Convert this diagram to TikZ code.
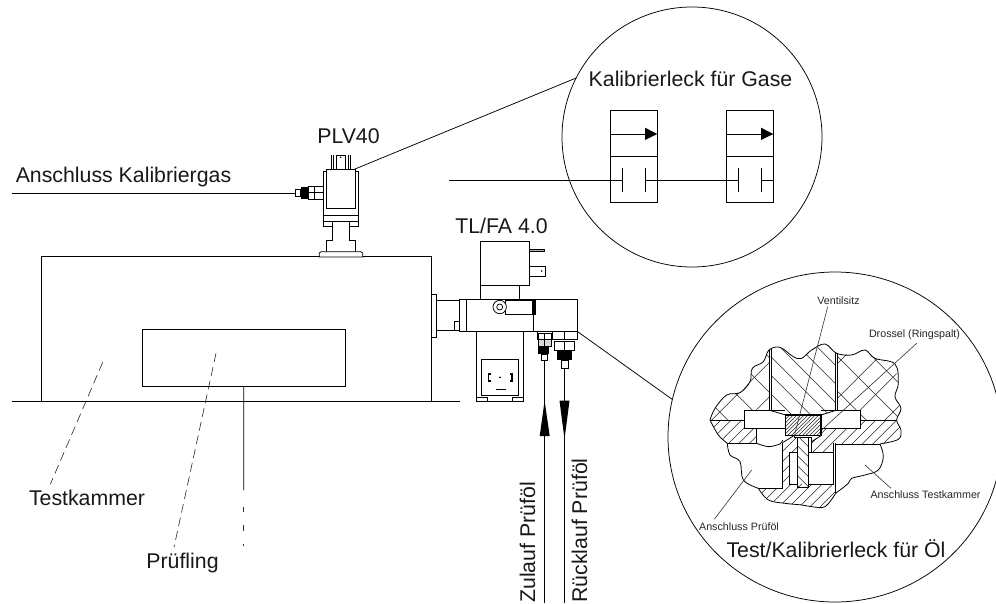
\documentclass[tikz,border=0pt]{standalone}
\usepackage{fontspec}
\setmainfont{Liberation Sans}
\usetikzlibrary{shapes.geometric}
\tikzset{
  lab/.style={font=\fontsize{21.3}{24}\selectfont,inner sep=0pt,text=black!90},
  smalllab/.style={font=\fontsize{10.7}{12}\selectfont,inner sep=0pt,text=black!85},
  ln/.style={draw=black,line width=0.75pt},
  thin ln/.style={draw=black!80,line width=0.6pt},
  lens/.style={draw=black,line width=0.75pt,inner sep=0pt,outer sep=0pt},
  hatchline/.style={draw=black!85,line width=0.55pt},
  outl/.style={draw=black,line width=0.8pt},
  dashleader/.style={draw=black!85,line width=0.6pt,dash pattern=on 9pt off 5pt},
}
\newcommand\hatchreg[3]{%
  \begin{scope}
    \clip #1;
    \pgfmathtruncatemacro\nxt{-1500+#2}
    \foreach \c in {-1500,\nxt,...,2000}{\draw[hatchline] (\c,-200) -- ({\c+(#3)*1000},800);}
  \end{scope}}
\begin{document}
\begin{tikzpicture}[x=1pt,y=-1pt]
\useasboundingbox (0,0) rectangle (996,603);
\clip (0,0) rectangle (996,603);
\fill[white] (0,0) rectangle (996,603);

% ---------- test chamber
\draw[ln] (41.3,401) -- (41.3,256.7) -- (431.3,256.7) -- (431.3,401);
\draw[ln] (12,401) -- (460,401);
\node[draw=black,line width=0.75pt,minimum width=203pt,minimum height=57.7pt,inner sep=0pt,outer sep=0pt] (dut) at (243.8,357.9) {};
\coordinate (dutend) at (243.7,490);
\draw[ln] (dut.south) -- (dutend);
\draw[thin ln] (243.7,507) -- (243.7,512) (243.7,525) -- (243.7,531) (243.7,544) -- (243.7,546);
\node[lab,anchor=center] (tk) at (87,498) {Testkammer};
\node[lab,anchor=center] (pf) at (182.5,563) {Prüfling};
\coordinate (tkin) at (102.7,362.3);
\coordinate (pfin) at (216,353.3);
\draw[dashleader] (tkin) -- (50.3,484.3);
\draw[dashleader] (pfin) -- (174,547.3);

% ---------- PLV40 valve
\node[lab] (plv) at (348.5,136) {PLV40};
\draw[ln] (331.7,155) -- (331.7,169) (333.3,155) -- (333.3,169) (348.3,155) -- (348.3,169) (350,155) -- (350,169);
\draw[ln] (336,169) -- (336,155) -- (345,155) -- (345,169);
\fill (340.7,157.3) circle (0.8pt);
\draw[ln] (323.3,171.7) -- (323.3,221.7) -- (358.7,221.7) -- (358.7,171.7) -- cycle;
\draw[ln,fill=white] (326,169) rectangle (355.7,208.3);
\draw[ln] (323.3,215.7) -- (358.7,215.7);
\draw[ln] (323.3,221.7) rectangle (332.3,226.7) (349.3,221.7) rectangle (358.7,226.7);
\draw[ln] (332.3,226.7) -- (332.3,240) -- (326,240) -- (326,251.7) (349.3,226.7) -- (349.3,240) -- (355.7,240) -- (355.7,251.7);
\draw[ln,fill=white] (319.3,253) -- (321,251.7) -- (360.7,251.7) -- (362.7,253) -- (362.7,257) -- (319.3,257) -- cycle;
\coordinate (plvcorner) at (355,169);
\draw[ln] (295.3,189.3) rectangle (300.7,196.7);
\fill (300.7,187.3) rectangle (308.3,199.3);
\draw[ln] (308.3,186) rectangle (323.3,199.3);
\draw[ln] (314.5,186) -- (314.5,199.3) (308.3,192.5) -- (323.3,192.5);
\coordinate (gasin) at (12,193.7);
\coordinate (gasend) at (295.3,193.7);
\draw[ln] (gasin) -- (gasend);
\node[lab] (akg) at (123.5,177) {Anschluss Kalibriergas};

% ---------- TL/FA 4.0 valve
\node[lab] (tl) at (501.5,226) {TL/FA 4.0};
\draw[ln] (431.7,294.3) rectangle (436.7,337.3);
\draw[ln] (436.7,300) rectangle (459.3,330.7);
\draw[ln] (454.3,321.7) rectangle (459.3,330.7);
\draw[ln] (459.3,299.3) rectangle (577.7,331.7);
\draw[ln] (466.7,299.3) -- (466.7,331.7) (533.3,299.3) -- (533.3,331.7);
\draw[ln] (480,241.7) rectangle (529.3,285);
\draw[ln] (480,285) -- (480,299.3) (519.3,285) -- (519.3,299.3);
\draw[ln,fill=black!30] (529.3,249.3) rectangle (544.3,251.7);
\draw[ln] (529.3,266) -- (545,266) -- (545,276) -- (529.3,276);
\fill (541.7,271) circle (0.8pt);
\draw[ln,fill=white] (505,300.7) rectangle (535,314.7);
\fill (531.7,300.7) rectangle (535,314.7);
\draw[ln,fill=white] (499.7,307) circle (6.7pt);
\draw[ln] (499.7,307) circle (3pt);
\draw[ln] (476.7,331.7) -- (476.7,401.7) -- (523.3,401.7) -- (523.3,331.7);
\draw[ln] (481.7,359) rectangle (518.3,395.7);
\draw[ln] (476.7,397.3) rectangle (487.7,401.7) (512.3,397.3) rectangle (523.3,401.7);
\draw[line width=1.3pt] (490.5,374) -- (488.7,374) -- (488.7,381) -- (490.5,381);
\draw[line width=1.3pt] (510,374) -- (512,374) -- (512,381) -- (510,381);
\fill (500,377.3) circle (1pt);
\draw[line width=0.9pt] (495.7,389) -- (505.7,389);
% fittings
\draw[ln] (537.7,331.7) -- (537.7,339) -- (577.7,339) -- (577.7,331.7);
\draw[ln] (552,331.7) -- (552,339) (564.5,331.7) -- (564.5,339);
\draw[ln] (538.3,333) rectangle (551,339);
\draw[ln,fill=black!15] (538.3,339) rectangle (551,346.7);
\draw[ln] (544.5,333) -- (544.5,346.7);
\fill (538.3,346.7) rectangle (549,354.3);
\draw[ln] (541.7,354.3) rectangle (547.7,360.7);
\draw[ln] (554.3,341) rectangle (574.3,350.7);
\draw[ln] (564.3,341) -- (564.3,350.7);
\fill (557.3,350.7) rectangle (571.7,360);
\draw[ln] (561,360) rectangle (568.3,368.3);
% oil lines and arrows
\coordinate (oilin) at (544.6,360.7);
\coordinate (oilinend) at (544.6,603);
\coordinate (oilout) at (564.5,368.3);
\coordinate (oiloutend) at (564.5,603);
\draw[ln] (oilin) -- (oilinend);
\draw[ln] (oilout) -- (oiloutend);
\fill (544.6,400.7) -- (549.7,436) -- (539.7,436) -- cycle;
\fill (559.5,400.7) -- (569.5,400.7) -- (564.5,439.3) -- cycle;
\node[lab,rotate=90,anchor=west] (zu) at (527.5,603) {Zulauf Prüföl};
\node[lab,rotate=90,anchor=west] (rue) at (579.5,603) {Rücklauf Prüföl};

% ---------- gas lens
\node[lens,circle,minimum size=260pt] (gaslens) at (692,137) {};
\draw[ln] (plvcorner) -- (gaslens.153);
\node[lab] (klg) at (690.5,79) {Kalibrierleck für Gase};
\draw[ln] (610.7,110.3) rectangle (657.3,202.7);
\draw[ln] (726.7,110.3) rectangle (773.3,202.7);
\draw[line width=1.4pt] (610.7,156.7) -- (657.3,156.7) (726.7,156.7) -- (773.3,156.7);
\draw[ln] (610.7,134) -- (650,134) (726.7,134) -- (766,134);
\fill (645,127.7) -- (657.3,134) -- (645,140) -- cycle;
\fill (761,127.7) -- (773.3,134) -- (761,140) -- cycle;
\coordinate (s1) at (449.3,180);
\coordinate (s2) at (622.7,180);
\coordinate (s3) at (645.7,180);
\coordinate (s4) at (738.3,180);
\coordinate (s5) at (761.7,180);
\coordinate (s6) at (773.3,180);
\draw[ln] (s1) -- (s2) (s3) -- (s4) (s5) -- (s6);
\draw[ln] (622.7,168.3) -- (622.7,191.7) (645.7,168.3) -- (645.7,191.7) (738.3,168.3) -- (738.3,191.7) (761.7,168.3) -- (761.7,191.7);

% ---------- oil lens
\node[lens,ellipse,minimum width=334pt,minimum height=330pt] (oillens) at (835,437) {};
\coordinate (tlcorner) at (577.7,331.7);
\draw[ln] (tlcorner) -- (oillens.167);
\node[lab] (tko) at (836,549) {Test/Kalibrierleck für Öl};
\node[smalllab] (vs) at (838.5,301) {Ventilsitz};
\node[smalllab] (dr) at (914.5,335) {Drossel (Ringspalt)};
\node[smalllab] (at) at (925.5,495) {Anschluss Testkammer};
\node[smalllab] (ap) at (739,527) {Anschluss Prüföl};

\begin{scope}[shift={(665,340)},x=0.3333pt,y=-0.3333pt]
  % cross hatched housing
  \hatchreg{(135,240)--(150,205)--(185,165)--(225,158)--(255,125)--(262,85)--(295,65)--(312,30)--(312,212)--(238,212)--(238,240)--cycle}{104}{1}
  \hatchreg{(135,240)--(150,205)--(185,165)--(225,158)--(255,125)--(262,85)--(295,65)--(312,30)--(312,212)--(238,212)--(238,240)--cycle}{104}{-1}
  \hatchreg{(518,40)--(560,45)--(600,30)--(630,55)--(690,72)--(700,130)--(690,170)--(708,205)--(695,240)--(587,240)--(587,212)--(518,212)--cycle}{104}{1}
  \hatchreg{(518,40)--(560,45)--(600,30)--(630,55)--(690,72)--(700,130)--(690,170)--(708,205)--(695,240)--(587,240)--(587,212)--(518,212)--cycle}{104}{-1}
  % plunger
  \hatchreg{(318,28)--(345,22)--(385,50)--(410,55)--(440,30)--(480,12)--(510,38)--(510,212)--(467,225)--(360,225)--(318,212)--cycle}{56}{1}
  % lower housing
  \hatchreg{(135,240)--(238,240)--(238,265)--(275,265)--(275,310)--(187,310)--(160,285)--cycle}{31}{-1}
  \hatchreg{(587,240)--(695,240)--(708,270)--(700,298)--(645,312)--(510,312)--(505,337)--(440,337)--(440,305)--(468,287)--(468,265)--(587,265)--cycle}{31}{-1}
  \hatchreg{(353,308)--(385,288)--(397,293)--(397,337)--(373,337)--(373,432)--(353,445)--cycle}{31}{-1}
  \hatchreg{(280,445)--(353,445)--(373,432)--(505,432)--(510,460)--(480,500)--(440,500)--(410,495)--(360,490)--(310,480)--cycle}{31}{-1}
  % stem and seat
  \hatchreg{(397,293)--(430,293)--(430,442)--(397,442)--cycle}{30}{1}
  \hatchreg{(362,225)--(468,225)--(468,287)--(362,287)--cycle}{11}{-1}
  % outlines
  \draw[outl] plot[smooth,tension=0.6] coordinates {(135,240)(150,205)(185,165)(225,158)(255,125)(262,85)(295,65)(312,30)(345,22)(385,50)(410,55)(440,30)(480,12)(515,40)(560,45)(600,30)(630,55)(690,72)(700,130)(690,170)(708,205)(695,240)(708,270)(700,298)(645,312)};
  \draw[outl] plot[smooth,tension=0.6] coordinates {(135,240)(160,285)(187,310)};
  \draw[outl] plot[smooth,tension=0.6] coordinates {(187,310)(195,345)(225,365)(235,420)(280,445)};
  \draw[outl] plot[smooth,tension=0.6] coordinates {(280,445)(310,480)(360,490)(410,495)(440,500)(480,500)(512,460)};
  \draw[outl] plot[smooth,tension=0.6] coordinates {(512,460)(550,430)(560,415)(600,405)(640,390)(655,350)(645,312)};
  % horizontal joints
  \draw[outl] (135,240) -- (238,240) (587,240) -- (695,240);
  % cavity
  \draw[outl] (360,212) -- (238,212) -- (238,265) -- (360,265);
  \draw[outl] (467,212) -- (587,212) -- (587,265) -- (467,265);
  % plunger walls
  \draw[outl] (312,30) -- (312,212) (318,28) -- (318,212);
  \draw[outl] (510,38) -- (510,212) (518,40) -- (518,212);
  \draw[outl] (318,212) -- (362,225) (510,212) -- (468,225);
  % seat block
  \draw[line width=1.1pt] (362,225) rectangle (468,287);
  % stem
  \draw[outl] (397,293) rectangle (430,442);
  \draw[outl] (388,287) -- (388,293) -- (397,293) (430,293) -- (440,293) -- (440,337);
  % bores
  \draw[outl] (373,337) rectangle (397,432);
  \draw[outl] (430,337) -- (505,337) -- (505,432) -- (430,432);
  \draw[outl] (353,308) -- (353,445) -- (280,445);
  \draw[outl] (510,310) -- (510,460);
  \draw[outl] (505,337) -- (505,310);
  \draw[outl] (187,310) -- (275,310) (510,312) -- (645,312);
  \draw[outl] (440,305) -- (468,287);
  % small pocket
  \draw[outl] (275,265) -- (275,310);
  \draw[outl] plot[smooth] coordinates {(275,310)(310,320)(345,312)(353,300)};
  \draw[outl] (353,308) -- (385,288);
  % leaders
  \coordinate (vsend) at (388,287);
  \coordinate (drend) at (470,270);
  \coordinate (atend) at (600,375);
  \coordinate (apend) at (260,390);
\end{scope}
\coordinate (vsstart) at (827.7,306.7);
\coordinate (drstart) at (917,343);
\coordinate (atstart) at (891,488.3);
\coordinate (apstart) at (714.3,519.3);
\draw[thin ln] (vsstart) -- (vsend);
\draw[thin ln] (drstart) -- (drend);
\draw[thin ln] (atstart) -- (atend);
\draw[thin ln] (apstart) -- (apend);
\end{tikzpicture}
\end{document}
